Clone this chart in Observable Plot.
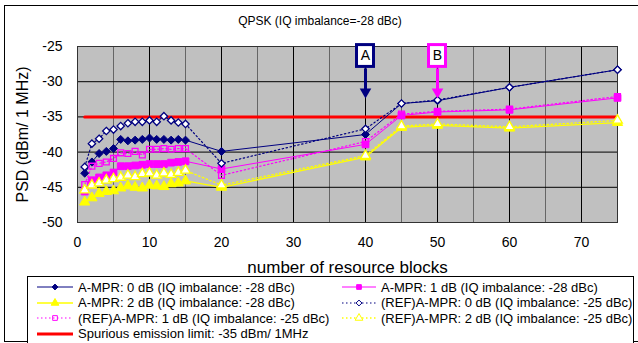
<!DOCTYPE html>
<html><head><meta charset="utf-8">
<script src="https://cdn.jsdelivr.net/npm/d3@7"></script>
<script src="https://cdn.jsdelivr.net/npm/@observablehq/plot@0.6"></script>
<style>
html,body{margin:0;padding:0;background:#fff;overflow:hidden;width:638px;height:343px;}
#wrap{position:relative;width:638px;height:343px;font-family:"Liberation Sans",Arial,sans-serif;color:#000;}
#frame{position:absolute;left:4px;top:5px;width:700px;height:337px;border:1px solid #000;box-sizing:border-box;}
#title{position:absolute;left:0;width:640px;top:14px;text-align:center;font-size:12px;}
#chart{position:absolute;left:0;top:0;}
#legend{position:absolute;left:27px;top:276px;width:607px;height:80px;border:1px solid #000;box-sizing:border-box;background:#fff;}
.item{position:absolute;display:flex;align-items:center;font-size:13px;white-space:nowrap;height:16px;}
.item svg{margin-right:4px;}
</style></head><body>
<div id="wrap"><div id="frame"></div><div id="title">QPSK (IQ imbalance=-28 dBc)</div><div id="chart"></div><div id="legend"></div></div>
<script>
// ---- data ----
const rbX = [1,2,3,4,5,6,7,8,9,10,11,12,13,14,15,20,40,45,50,60,75];
const ampr0 = [-43.0,-41.4,-40.2,-39.9,-39.5,-38.2,-38.4,-38.3,-38.2,-38.0,-38.2,-38.2,-38.3,-38.2,-38.3,-39.9,-37.5,-33.1,-32.7,-30.8,-28.3];
const ampr1 = [-45.6,-44.0,-43.6,-43.3,-42.9,-42.0,-42.0,-41.9,-41.8,-41.7,-41.7,-41.7,-41.5,-41.4,-41.3,-42.4,-38.9,-34.8,-34.3,-34.0,-32.3];
const ampr2 = [-47.1,-46.5,-45.9,-45.6,-45.5,-45.1,-44.8,-45.0,-45.1,-44.7,-44.8,-44.9,-44.5,-44.4,-44.1,-45.0,-40.7,-36.5,-36.2,-36.6,-35.8];
const ref0 = [-42.1,-38.8,-38.1,-37.0,-36.8,-36.3,-35.9,-35.7,-35.7,-35.5,-35.7,-34.9,-35.5,-35.8,-36.0,-41.6,-36.7,-33.1,-32.6,-30.8,-28.3];
const ref1 = [-44.6,-42.0,-41.6,-41.4,-40.9,-40.1,-40.2,-39.9,-40.4,-39.6,-39.6,-39.5,-39.6,-39.5,-39.5,-43.3,-38.5,-34.6,-34.2,-33.9,-32.1];
const ref2 = [-45.4,-44.7,-44.4,-44.0,-43.8,-43.6,-43.3,-43.5,-43.1,-43.0,-43.3,-43.0,-43.2,-42.9,-42.6,-44.7,-40.5,-36.3,-36.0,-36.4,-35.5];
const seriesNames = [
  "A-MPR: 0 dB (IQ imbalance: -28 dBc)",
  "A-MPR: 1 dB (IQ imbalance: -28 dBc)",
  "A-MPR: 2 dB (IQ imbalance: -28 dBc)",
  "(REF)A-MPR: 0 dB (IQ imbalance: -25 dBc)",
  "(REF)A-MPR: 1 dB (IQ imbalance: -25 dBc)",
  "(REF)A-MPR: 2 dB (IQ imbalance: -25 dBc)"
];
const limitX = [1, 75];
const limitY = -35;
const limitLabel = "Spurious emission limit: -35 dBm/ 1MHz";
const xTicks = [0,10,20,30,40,50,60,70];
const yTicks = [-50,-45,-40,-35,-30,-25];
const annotX = [40, 50];
const annotLabel = ["A", "B"];
const titleText = "QPSK (IQ imbalance=-28 dBc)";
const xLabel = "number of resource blocks";
const yLabel = "PSD (dBm/ 1 MHz)";

// ---- styles ----
const NAVY = "#000080", MAG = "#ff00ff", YEL = "#ffff00";
const styles = [
  {color: NAVY, dash: null, symbol: "diamond2", fill: NAVY, r: 3.6, sw: 1},
  {color: MAG, dash: null, symbol: "square", fill: MAG, r: 3.8, sw: 1},
  {color: YEL, dash: null, symbol: "triangle", fill: YEL, r: 3.8, sw: 1.3},
  {color: NAVY, dash: "1.5,2.5", symbol: "diamond2", fill: "#fff", r: 3.3, sw: 1.2},
  {color: MAG, dash: "1.5,2.5", symbol: "square", fill: "none", r: 3.3, sw: 1.2},
  {color: YEL, dash: "1.5,2.5", symbol: "triangle", fill: "#fff", r: 3.6, sw: 1.3}
];
const annotColor = [NAVY, MAG];

const allSeries = [ampr0, ampr1, ampr2, ref0, ref1, ref2];
const tables = allSeries.map((vals, s) => vals.map((v, i) => ({x: rbX[i], y: v, s})));
const limitData = limitX.map(x => ({x, y: limitY}));
const annots = annotX.map((x, i) => ({x, label: annotLabel[i], color: annotColor[i]}));

const gridX = d3.range(5, 75, 5);
const gridY = d3.range(-45, -25, 5);

const seriesMarks = [];
tables.forEach((t, s) => {
  const st = styles[s];
  seriesMarks.push(Plot.line(t, {x: "x", y: "y", stroke: st.color, strokeWidth: st.sw, strokeDasharray: st.dash || undefined}));
});
tables.forEach((t, s) => {
  const st = styles[s];
  seriesMarks.push(Plot.dot(t, {x: "x", y: "y", symbol: () => st.symbol, r: st.r, fill: st.fill, stroke: st.color, strokeWidth: s >= 3 ? 1.3 : 1}));
});

const boxHalf = 1.18;
const plot = Plot.plot({
  width: 638,
  height: 280,
  marginLeft: 77,
  marginRight: 21,
  marginTop: 46,
  marginBottom: 58,
  style: {fontFamily: '"Liberation Sans", Arial, sans-serif', fontSize: "14px", background: "transparent", color: "#000", overflow: "visible"},
  x: {domain: [0, 75], ticks: xTicks, tickSize: 0, tickPadding: 15, label: null, tickFormat: d => String(d)},
  y: {domain: [-50, -25], ticks: yTicks, tickSize: 0, tickPadding: 15, label: null, tickFormat: d => String(d)},
  marks: [
    Plot.frame({fill: "#c0c0c0"}),
    Plot.ruleX(gridX, {stroke: d => d % 10 === 0 ? "#000" : "#666", strokeWidth: 1}),
    Plot.ruleY(gridY, {stroke: "#000", strokeWidth: 1}),
    Plot.frame({stroke: "#333"}),
    Plot.line(limitData, {x: "x", y: "y", stroke: "#ff0000", strokeWidth: 3}),
    ...seriesMarks,
    Plot.link(annots, {x1: "x", x2: "x", y1: () => -28.1, y2: () => -31.1, stroke: d => d.color, strokeWidth: 3}),
    Plot.dot(annots, {x: "x", y: () => -31.45, symbol: "triangle", rotate: 180, r: 4.3, fill: d => d.color, stroke: "none"}),
    Plot.rect(annots, {x1: d => d.x - boxHalf, x2: d => d.x + boxHalf, y1: () => -24.8, y2: () => -27.9, fill: "#fff", stroke: d => d.color, strokeWidth: 3}),
    Plot.text(annots, {x: "x", y: () => -26.35, text: "label", fontSize: 14, fill: "#000"}),
    Plot.text([yLabel], {frameAnchor: "left", text: d => d, rotate: -90, dx: -55, fontSize: 16, textAnchor: "middle", lineAnchor: "middle"}),
    Plot.text([xLabel], {frameAnchor: "bottom", text: d => d, dy: 45, fontSize: 17, textAnchor: "middle", lineAnchor: "middle"})
  ]
});
document.getElementById("chart").appendChild(plot);
document.getElementById("title").textContent = titleText;

// ---- legend ----
const legend = d3.select("#legend");
const rowCenters = [11, 26.5, 42, 57.5];
const symMap = {diamond2: d3.symbolDiamond2, square: d3.symbolSquare, triangle: d3.symbolTriangle};
function addItem(label, col, row, st, isLimit) {
  const it = legend.append("div").attr("class", "item")
    .style("left", (col ? 313 : 8) + "px")
    .style("top", (rowCenters[row] - 8 - 1) + "px");
  const w = col ? 36 : 38;
  const svg = it.append("svg").attr("width", w).attr("height", 12);
  if (isLimit) {
    svg.append("line").attr("x1", 1).attr("x2", w - 1).attr("y1", 6).attr("y2", 6).attr("stroke", "#ff0000").attr("stroke-width", 3);
  } else {
    svg.append("line").attr("x1", 1).attr("x2", w - 1).attr("y1", 6).attr("y2", 6)
      .attr("stroke", st.color).attr("stroke-width", st.sw).attr("stroke-dasharray", st.dash);
    svg.append("path").attr("transform", `translate(${w/2},6)`)
      .attr("d", d3.symbol(symMap[st.symbol], st.symbol === "triangle" ? 26 : 22)())
      .attr("fill", st.fill).attr("stroke", st.color).attr("stroke-width", 1);
  }
  it.append("span").text(label);
}
seriesNames.forEach((name, i) => addItem(name, i % 2, Math.floor(i / 2), styles[i], false));
addItem(limitLabel, 0, 3, null, true);
</script>
</body></html>
